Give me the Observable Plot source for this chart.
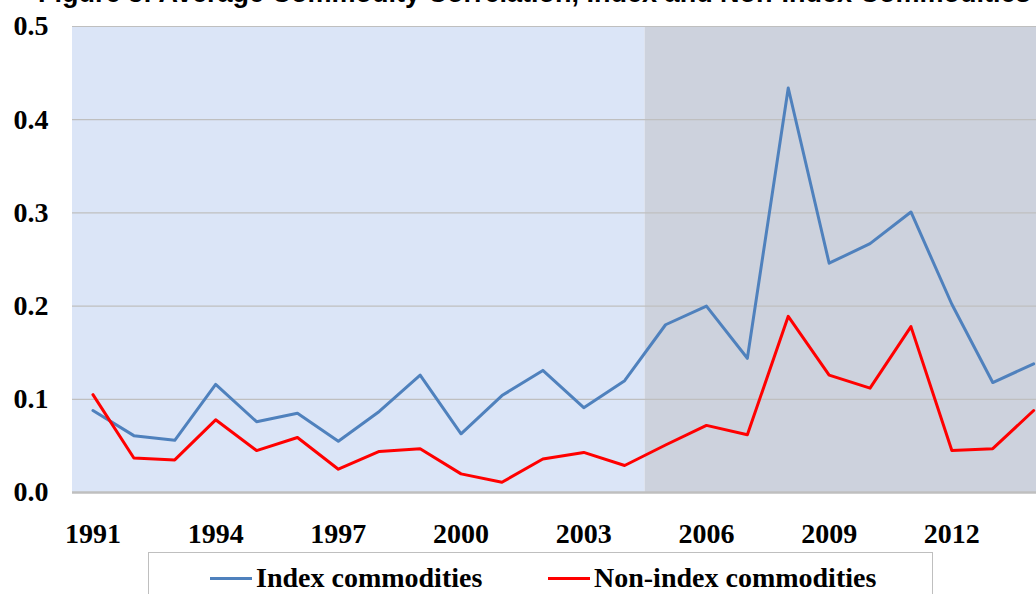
<!DOCTYPE html>
<html>
<head>
<meta charset="utf-8">
<script src="https://cdn.jsdelivr.net/npm/d3@7"></script>
<script src="https://cdn.jsdelivr.net/npm/@observablehq/plot@0.6"></script>
<style>
  html, body { margin: 0; padding: 0; background: #fff; overflow: hidden; }
  #wrap { position: relative; width: 1036px; height: 594px; overflow: hidden; }
  #title { position: absolute; left: 0; top: 0; }
  #chart { position: absolute; left: 0; top: 0; }
  #legend {
    position: absolute; left: 148px; top: 552px; width: 785px; height: 60px;
    border: 1px solid #BFBFBF; box-sizing: border-box; background: #fff;
    font-family: "Liberation Serif", serif; font-weight: bold; font-size: 28px; color: #000;
  }
  .item { position: absolute; top: 9px; display: flex; align-items: center; white-space: nowrap; }
  .sw { width: 42px; height: 3px; margin-right: 4px; }
</style>
</head>
<body>
<div id="wrap">
  <div id="chart"></div>
  <svg id="title" width="1036" height="14"><text x="38" y="1.5" font-family="Liberation Sans, Arial, sans-serif" font-weight="bold" font-size="27" fill="#000">Figure 3: Average Commodity Correlation, Index and Non-Index Commodities</text></svg>
  <div id="legend"></div>
</div>
<script>
const years = [1991,1992,1993,1994,1995,1996,1997,1998,1999,2000,2001,2002,2003,2004,2005,2006,2007,2008,2009,2010,2011,2012,2013,2014];
const indexCommodities = [0.088,0.061,0.056,0.116,0.076,0.085,0.055,0.087,0.126,0.063,0.104,0.131,0.091,0.120,0.180,0.200,0.144,0.434,0.246,0.267,0.301,0.202,0.118,0.138];
const nonIndexCommodities = [0.105,0.037,0.035,0.078,0.045,0.059,0.025,0.044,0.047,0.020,0.011,0.036,0.043,0.029,0.051,0.072,0.062,0.189,0.126,0.112,0.178,0.045,0.047,0.088];
const seriesNames = ["Index commodities", "Non-index commodities"];
const seriesColors = ["#4F81BD", "#FF0000"];
const xTicks = [1991,1994,1997,2000,2003,2006,2009,2012];
const yTicks = [0,0.1,0.2,0.3,0.4,0.5];
const periods = [
  {from: 1990.5, to: 2004.5, fill: "#DBE5F7"},
  {from: 2004.5, to: 2014.5, fill: "#CDD2DD"}
];

const rows = [];
years.forEach((y, i) => {
  rows.push({year: y, value: indexCommodities[i], series: seriesNames[0]});
});
years.forEach((y, i) => {
  rows.push({year: y, value: nonIndexCommodities[i], series: seriesNames[1]});
});

const chart = Plot.plot({
  width: 1036,
  height: 548,
  marginTop: 26,
  marginBottom: 56,
  marginLeft: 72,
  marginRight: 0,
  style: {fontFamily: "Liberation Serif, serif", fontSize: "28px", fontWeight: "bold", color: "#000", background: "transparent", overflow: "hidden"},
  x: {domain: [1990.5, 2014.5], range: [72, 1053.6], ticks: xTicks, tickFormat: d => String(d), label: null},
  y: {domain: [0, 0.5], ticks: yTicks, tickFormat: d => d.toFixed(1), label: null},
  marks: [
    Plot.rect(periods, {x1: "from", x2: "to", y1: 0, y2: 0.5, fill: d => d.fill}),
    Plot.ruleY(yTicks.filter(d => d > 0), {stroke: "#BFBFBF", strokeWidth: 1.2}),
    Plot.ruleY([0], {stroke: "#BFBFBF", strokeWidth: 2.5}),
    Plot.axisX({ticks: xTicks, tickSize: 0, tickPadding: 31, tickFormat: d => String(d), fill: "#000"}),
    Plot.axisY({ticks: yTicks, tickSize: 0, tickPadding: 24, tickFormat: d => d.toFixed(1), fill: "#000"}),
    Plot.line(rows.filter(d => d.series === seriesNames[0]), {x: "year", y: "value", stroke: seriesColors[0], strokeWidth: 3}),
    Plot.line(rows.filter(d => d.series === seriesNames[1]), {x: "year", y: "value", stroke: seriesColors[1], strokeWidth: 3})
  ]
});
document.getElementById("chart").appendChild(chart);

const legend = document.getElementById("legend");
const lefts = [61, 399];
seriesNames.forEach((name, i) => {
  const it = document.createElement("div");
  it.className = "item";
  it.style.left = lefts[i] + "px";
  const sw = document.createElement("div");
  sw.className = "sw";
  sw.style.background = seriesColors[i];
  const tx = document.createElement("span");
  tx.textContent = name;
  it.appendChild(sw);
  it.appendChild(tx);
  legend.appendChild(it);
});
</script>
</body>
</html>
